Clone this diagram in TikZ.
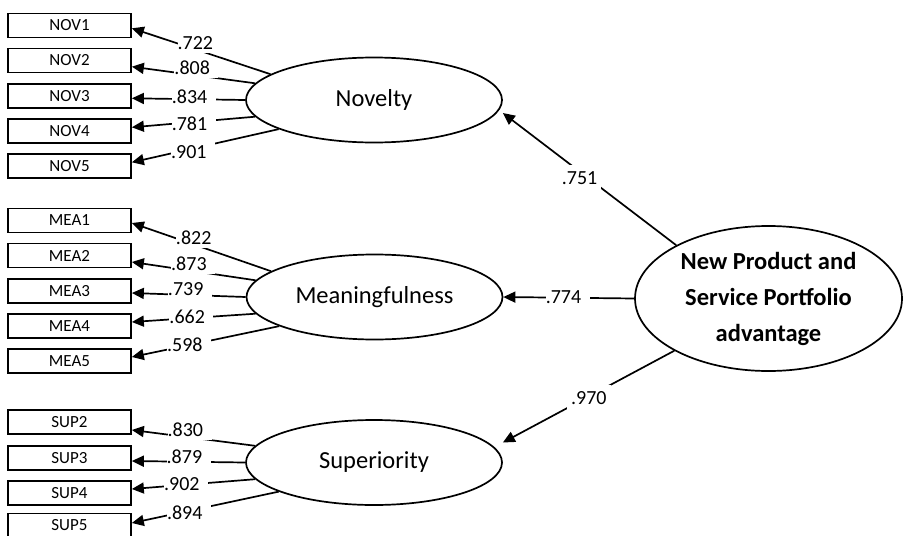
\documentclass[tikz,border=0pt]{standalone}
\usepackage{fontspec}
\setmainfont{Carlito}
\usetikzlibrary{arrows.meta,shapes.geometric,calc}
\begin{document}
\begin{tikzpicture}[x=1pt,y=-1pt,
  obsbox/.style={draw, line width=1.7pt, rectangle, minimum width=123pt, minimum height=24pt, inner sep=0pt, font=\fontsize{17}{20}\selectfont},
  latvar/.style={draw, line width=1.7pt, ellipse, minimum width=256pt, minimum height=85pt, inner sep=0pt, font=\fontsize{24.5}{29}\selectfont},
  bigvar/.style={draw, line width=1.7pt, ellipse, minimum width=267pt, minimum height=145pt, inner sep=0pt, align=center, font=\fontsize{24.5}{36}\selectfont\bfseries},
  loadarrow/.style={line width=1.7pt, -{Triangle[length=12pt,width=11pt]}},
  lblw/.style={anchor=west, fill=white, inner xsep=0pt, inner ysep=3pt, text width=44pt, align=left, font=\fontsize{20}{24}\selectfont},
  lblc/.style={fill=white, inner xsep=4pt, inner ysep=6.5pt, font=\fontsize{20}{24}\selectfont}
]
\useasboundingbox (0,0) rectangle (904,535);
\fill[white] (0,0) rectangle (904,535);
\clip (0,0) rectangle (904,535);

% observed indicators
\node[obsbox] (nov1) at (69.5,25.5) {NOV1};
\node[obsbox] (nov2) at (69.5,60.5) {NOV2};
\node[obsbox] (nov3) at (69.5,96.3) {NOV3};
\node[obsbox] (nov4) at (69.5,130.7) {NOV4};
\node[obsbox] (nov5) at (69.5,166.3) {NOV5};

\node[obsbox] (mea1) at (69.5,220.5) {MEA1};
\node[obsbox] (mea2) at (69.5,255.5) {MEA2};
\node[obsbox] (mea3) at (69.5,291.3) {MEA3};
\node[obsbox] (mea4) at (69.5,325.7) {MEA4};
\node[obsbox] (mea5) at (69.5,361.3) {MEA5};

\node[obsbox] (sup2) at (69.5,422) {SUP2};
\node[obsbox] (sup3) at (69.5,458.3) {SUP3};
\node[obsbox] (sup4) at (69.5,492.7) {SUP4};
\node[obsbox] (sup5) at (69.5,525.5) {SUP5};

% latent variables
\node[latvar] (nov) at (374,100) {Novelty};
\node[latvar] (mea) at (374.5,297) {Meaningfulness};
\node[latvar] (sup) at (374,462.5) {Superiority};
\node[bigvar] (npsp) at (768.5,298.5) {New Product and\\Service Portfolio\\advantage};

% Novelty loadings
\draw[loadarrow] (nov.166) -- ([yshift=-2.8pt]nov1.east) node[lblw, pos=0.676] {.722};
\draw[loadarrow] (nov.172.5) -- ([yshift=-6.2pt]nov2.east) node[lblw, pos=0.661, yshift=4.4pt] {.808};
\draw[loadarrow] (nov.west) -- ([yshift=-2pt]nov3.east) node[lblw, pos=0.654, yshift=2pt] {.834};
\draw[loadarrow] (nov.188) -- ([yshift=3.4pt]nov4.east) node[lblw, pos=0.683] {.781};
\draw[loadarrow] (nov.197) -- ([yshift=4pt]nov5.east) node[lblw, pos=0.738, yshift=1.6pt] {.901};

% Meaningfulness loadings
\draw[loadarrow] (mea.166) -- ([yshift=-2.5pt]mea1.east) node[lblw, pos=0.689] {.822};
\draw[loadarrow] (mea.172.5) -- ([yshift=-6.5pt]mea2.east) node[lblw, pos=0.689, yshift=4pt] {.873};
\draw[loadarrow] (mea.west) -- ([yshift=-1.7pt]mea3.east) node[lblw, pos=0.69, yshift=5pt] {.739};
\draw[loadarrow] (mea.188) -- ([yshift=3.7pt]mea4.east) node[lblw, pos=0.703, yshift=2.3pt] {.662};
\draw[loadarrow] (mea.197) -- ([yshift=4.3pt]mea5.east) node[lblw, pos=0.766, yshift=5pt] {.598};

% Superiority loadings
\draw[loadarrow] (sup.172.5) -- ([yshift=-8pt]sup2.east) node[lblw, pos=0.717, yshift=4.5pt] {.830};
\draw[loadarrow] (sup.west) -- ([yshift=-2.7pt]sup3.east) node[lblw, pos=0.70, yshift=4.3pt] {.879};
\draw[loadarrow] (sup.188) -- ([yshift=3.7pt]sup4.east) node[lblw, pos=0.745, yshift=2.7pt] {.902};
\draw[loadarrow] (sup.197) -- ([yshift=2.5pt]sup5.east) node[lblw, pos=0.766, yshift=2.7pt] {.894};

% structural paths
\draw[loadarrow] (npsp.150.7) -- ([yshift=-13pt]nov.east) node[lblc, pos=0.557, yshift=-6.4pt] {.751};
\draw[loadarrow] (npsp.west) -- (mea.east) node[lblw, pos=0.682] {.774};
\draw[loadarrow] (npsp.209.3) -- ([yshift=20pt]sup.east) node[lblc, pos=0.498, yshift=-1.7pt] {.970};
\end{tikzpicture}
\end{document}
